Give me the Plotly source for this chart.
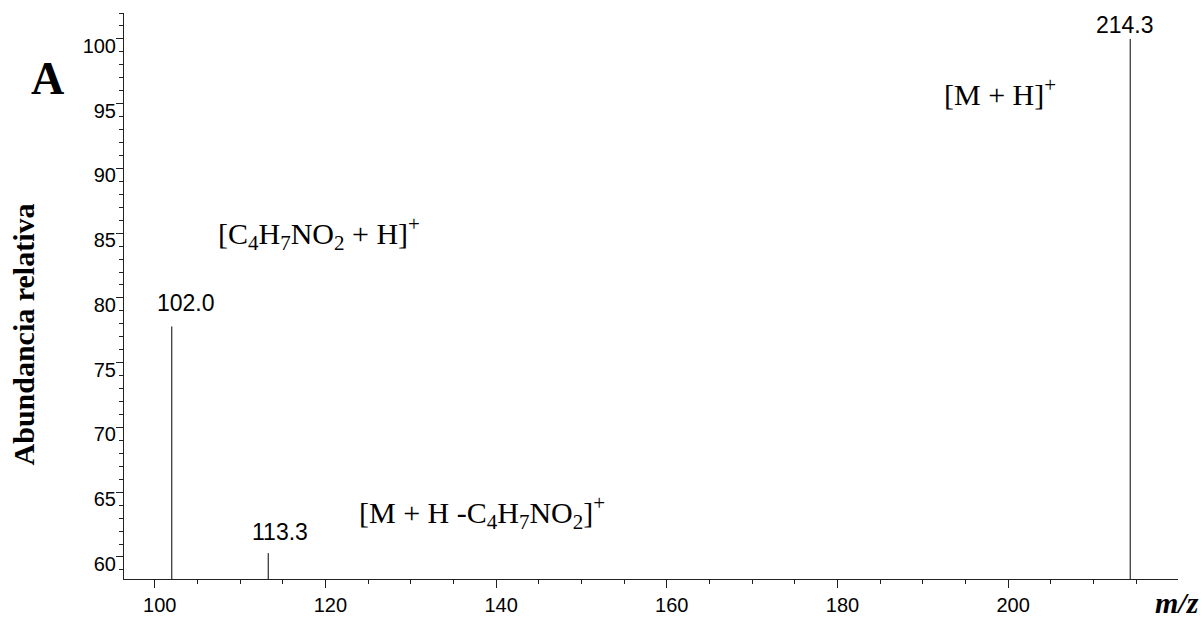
import plotly.graph_objects as go

# ---- data ----
mz = [102.0, 113.3, 214.3]
abundance = [77.8, 60.3, 100.0]
peak_labels = ["102.0", "113.3", "214.3"]

ion_texts = [
    "[M + H]<sup>+</sup>",
    "[C<sub>4</sub>H<sub>7</sub>NO<sub>2</sub> + H]<sup>+</sup>",
    "[M + H -C<sub>4</sub>H<sub>7</sub>NO<sub>2</sub>]<sup>+</sup>",
]
ion_x = [192.2, 107.2, 123.7]
ion_y = [95.9, 85.0, 63.4]

x_range = [96.4, 219.9]
y_range = [58.3, 102.0]

# ---- styles ----
label_xshift = [14, 12, -5]
label_yshift = [8, 6, -1]
serif = "Liberation Serif, Times New Roman, serif"
sans = "Liberation Sans, Arial, sans-serif"

xs, ys = [], []
for m, a in zip(mz, abundance):
    xs += [m, m, None]
    ys += [y_range[0], a, None]

fig = go.Figure()
fig.add_trace(go.Scatter(x=xs, y=ys, mode="lines",
                         line=dict(color="black", width=1),
                         hoverinfo="skip", showlegend=False))

annotations = []
for m, a, t, dx, dy in zip(mz, abundance, peak_labels, label_xshift, label_yshift):
    annotations.append(dict(x=m, y=a, xref="x", yref="y", text=t, showarrow=False,
                            xanchor="center", yanchor="bottom", xshift=dx, yshift=dy,
                            font=dict(family=sans, size=23, color="black")))
for t, x, y in zip(ion_texts, ion_x, ion_y):
    annotations.append(dict(x=x, y=y, xref="x", yref="y", text=t, showarrow=False,
                            xanchor="left", yanchor="middle",
                            font=dict(family=serif, size=30, color="black")))

annotations.append(dict(x=-0.090, y=0.885, xref="paper", yref="paper", text="<b>A</b>",
                        showarrow=False, xanchor="left", yanchor="middle",
                        font=dict(family=serif, size=46, color="black")))
annotations.append(dict(x=-0.0949, y=0.432, xref="paper", yref="paper",
                        text="<b>Abundancia relativa</b>", textangle=-90,
                        showarrow=False, xanchor="center", yanchor="middle",
                        font=dict(family=serif, size=30, color="black")))
annotations.append(dict(x=0.9986, y=-0.042, xref="paper", yref="paper",
                        text="<b><i>m/z</i></b>",
                        showarrow=False, xanchor="center", yanchor="middle",
                        font=dict(family=serif, size=30, color="black")))

fig.update_layout(
    width=1202, height=628,
    margin=dict(l=124, r=24, t=13, b=41),
    paper_bgcolor="white", plot_bgcolor="white",
    annotations=annotations,
    xaxis=dict(range=x_range, showgrid=False, zeroline=False,
               showline=True, linecolor="#222", linewidth=1,
               ticks="outside", ticklen=8, tickcolor="#222", tickwidth=1,
               tick0=100, dtick=20, ticklabelshift=5,
               minor=dict(ticks="outside", ticklen=4, dtick=5, tick0=100, tickcolor="#222", showgrid=False),
               tickfont=dict(family=sans, size=20, color="black")),
    yaxis=dict(range=y_range, showgrid=False, zeroline=False,
               showline=True, linecolor="#222", linewidth=1,
               ticks="outside", ticklen=7, tickcolor="#222", tickwidth=1,
               tick0=60, dtick=5, ticklabelshift=7, ticklabelstandoff=-4,
               minor=dict(ticks="outside", ticklen=4, dtick=1, tick0=60, tickcolor="#222", showgrid=False),
               tickfont=dict(family=sans, size=20, color="black")),
)

fig.write_html("out.html")
